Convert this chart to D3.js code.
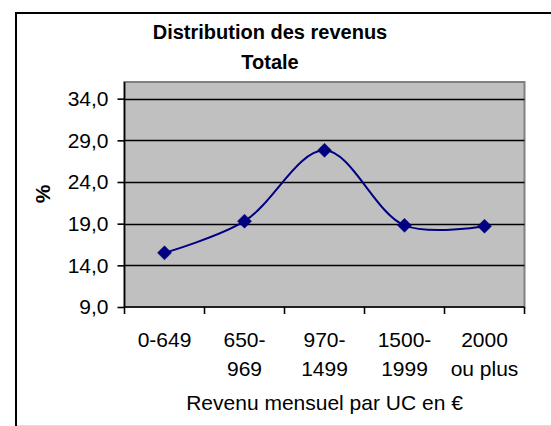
<!DOCTYPE html>
<html>
<head>
<meta charset="utf-8">
<script src="https://cdn.jsdelivr.net/npm/d3@7"></script>
<style>
  html, body { margin: 0; padding: 0; background: #fff; }
  svg { display: block; font-family: "Liberation Sans", Arial, sans-serif; }
</style>
</head>
<body>
<script>
const categories = [["0-649"], ["650-", "969"], ["970-", "1499"], ["1500-", "1999"], ["2000", "ou plus"]];
const categoryKeys = ["0-649", "650-969", "970-1499", "1500-1999", "2000 ou plus"];
const values = [15.5, 19.3, 27.8, 18.8, 18.7];
const yTicks = [9, 14, 19, 24, 29, 34];
const titleLines = ["Distribution des revenus", "Totale"];
const yTitle = "%";
const xTitle = "Revenu mensuel par UC en €";

(function () {
const W = 551, H = 426;
const svg = d3.select("body").append("svg").attr("width", W).attr("height", H);

// outer chart frame
svg.append("rect").attr("x", 0).attr("y", 0).attr("width", W).attr("height", H).attr("fill", "#fff");
svg.append("line").attr("x1", 16).attr("x2", W).attr("y1", 13).attr("y2", 13).attr("stroke", "#000").attr("stroke-width", 2);
svg.append("line").attr("x1", 16).attr("x2", 16).attr("y1", 12).attr("y2", H).attr("stroke", "#000").attr("stroke-width", 2);
svg.append("line").attr("x1", 17).attr("x2", W).attr("y1", 425.5).attr("y2", 425.5).attr("stroke", "#ddd").attr("stroke-width", 1);

const pLeft = 124.5, pRight = 524.5, pTop = 82, pBottom = 307;
const x = d3.scaleBand().domain(categoryKeys).range([pLeft, pRight]).padding(0);
const y = d3.scaleLinear().domain([9, 36]).range([pBottom, pTop]);

// plot area
svg.append("rect").attr("x", pLeft).attr("y", pTop).attr("width", pRight - pLeft).attr("height", pBottom - pTop)
  .attr("fill", "#C0C0C0").attr("stroke", "#808080").attr("stroke-width", 2);

// gridlines
svg.append("g").selectAll("line").data(yTicks.filter(d => d > 9)).join("line")
  .attr("x1", pLeft).attr("x2", pRight)
  .attr("y1", d => Math.round(y(d)) + 0.5).attr("y2", d => Math.round(y(d)) + 0.5)
  .attr("stroke", "#000").attr("stroke-width", 1.6);

// y axis
const yAxis = d3.axisLeft(y).tickValues(yTicks).tickSize(7).tickPadding(9)
  .tickFormat(d => d3.format(".1f")(d).replace(".", ","));
const gy = svg.append("g").attr("transform", `translate(${pLeft},0)`).call(yAxis);
gy.select(".domain").attr("stroke", "#000").attr("stroke-width", 1.6).attr("d", `M0,${pTop}V${pBottom}`);
gy.selectAll(".tick line").attr("stroke", "#000").attr("stroke-width", 1.6);
gy.selectAll(".tick text").attr("font-size", 21).attr("fill", "#000").attr("font-family", "Liberation Sans, Arial, sans-serif");

// x axis
const xAxis = d3.axisBottom(x).tickSize(0).tickFormat("");
const gx = svg.append("g").attr("transform", `translate(0,${pBottom})`).call(xAxis);
gx.select(".domain").attr("stroke", "#000").attr("stroke-width", 1.6).attr("d", `M${pLeft},0H${pRight}`);
const bounds = categoryKeys.map(k => x(k)).concat([x(categoryKeys[categoryKeys.length - 1]) + x.bandwidth()]);
gx.append("g").selectAll("line").data(bounds).join("line")
  .attr("x1", d => d).attr("x2", d => d).attr("y1", 0).attr("y2", 7)
  .attr("stroke", "#000").attr("stroke-width", 1.6);
const lab = svg.append("g").attr("font-size", 21).attr("fill", "#000").attr("text-anchor", "middle");
categoryKeys.forEach((k, i) => {
  const cx = x(k) + x.bandwidth() / 2;
  const t = lab.append("text").attr("x", cx).attr("y", 347);
  categories[i].forEach((line, j) => {
    t.append("tspan").attr("x", cx).attr("dy", j === 0 ? 0 : 28.5).text(line);
  });
});

// axis titles
svg.append("text").attr("x", (pLeft + pRight) / 2).attr("y", 410).attr("text-anchor", "middle")
  .attr("font-size", 21).attr("fill", "#000").text(xTitle);
svg.append("text").attr("transform", "translate(50,194) rotate(-90)").attr("text-anchor", "middle")
  .attr("font-size", 21).attr("font-weight", "bold").attr("fill", "#000").text(yTitle);

// chart title
const tt = svg.append("text").attr("text-anchor", "middle").attr("font-size", 20).attr("font-weight", "bold").attr("fill", "#000");
titleLines.forEach((l, i) => tt.append("tspan").attr("x", 270).attr("y", 39 + i * 30).text(l));

// line
const pts = categoryKeys.map((k, i) => [x(k) + x.bandwidth() / 2, y(values[i])]);
svg.append("path").datum(pts)
  .attr("d", d3.line().curve(d3.curveCatmullRom.alpha(0.5)))
  .attr("fill", "none").attr("stroke", "#000080").attr("stroke-width", 2);

// markers
svg.append("g").selectAll("path").data(pts).join("path")
  .attr("transform", d => `translate(${d[0]},${d[1]}) rotate(45)`)
  .attr("d", d3.symbol().type(d3.symbolSquare).size(98))
  .attr("fill", "#000080").attr("stroke", "#000080").attr("stroke-width", 0.5);
})();
</script>
</body>
</html>
